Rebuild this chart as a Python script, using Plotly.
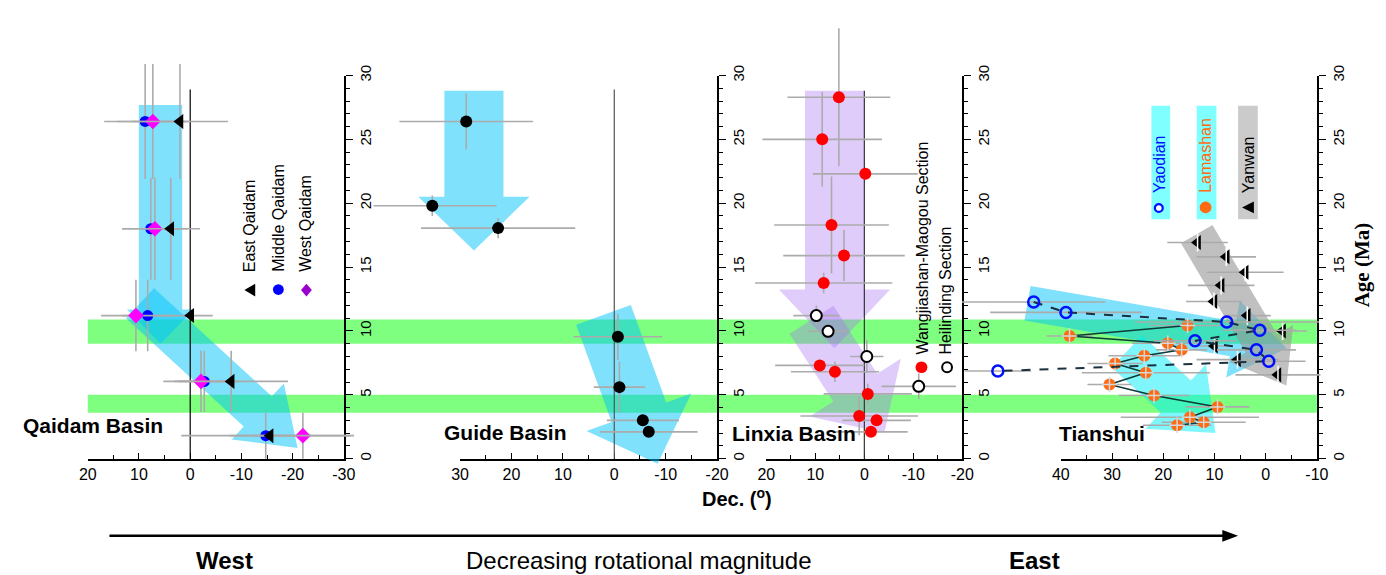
import math
import plotly.graph_objects as go

W, H = 1386, 575

# ---------------- data ----------------
# Qaidam Basin (shared ages for each row)
qd_age = [26.4, 18.0, 11.2, 6.05, 1.8]
east_dec = [2.0, 3.8, -0.1, -8.0, -15.6]
east_xerr = [9.4, 5.7, 4.3, 11.1, 8.0]
east_yerr = [4.5, 4.0, 0.0, 2.4, 0.0]
mid_dec = [8.8, 7.7, 8.3, -2.75, -14.75]
mid_xerr = [8.0, 5.6, 5.0, 5.0, 16.5]
mid_yerr = [4.5, 4.0, 2.8, 2.4, 1.8]
west_dec = [7.3, 6.9, 10.6, -2.1, -22.0]
west_xerr = [7.0, 6.4, 6.8, 7.35, 10.0]
west_yerr = [4.5, 4.0, 2.8, 2.4, 1.8]

# Guide Basin
gd_dec = [28.8, 35.4, 22.6, -0.7, -1.0, -5.55, -6.7]
gd_age = [26.4, 19.8, 18.05, 9.54, 5.6, 3.0, 2.1]
gd_xerr = [13.0, 12.5, 15.0, 8.6, 5.0, 7.0, 9.5]
gd_yerr = [2.2, 0.8, 0.8, 1.8, 2.0, 0.0, 0.0]

# Linxia Basin - Wangjiashan-Maogou section
wm_dec = [5.2, 8.6, -0.2, 6.7, 4.15, 8.3, 9.1, 6.0, -0.7, 1.05, -2.5, -1.35]
wm_age = [28.3, 25.0, 22.3, 18.3, 15.9, 13.75, 7.3, 6.8, 5.07, 3.34, 3.0, 2.1]
wm_xerr = [10.5, 12.2, 10.7, 11.7, 12.4, 14.0, 9.1, 9.0, 9.0, 12.0, 7.0, 7.5]
wm_yerr = [5.4, 3.7, 0.0, 3.8, 2.0, 0.8, 0.0, 0.8, 0.8, 1.5, 0.0, 0.0]
# Linxia Basin - Heilinding section
hl_dec = [9.8, 7.4, -0.5, -11.1]
hl_age = [11.2, 9.97, 8.0, 5.66]
hl_xerr = [4.7, 4.1, 3.4, 7.6]
hl_yerr = [0.8, 0.0, 1.3, 1.0]

# Tianshui
yd_dec = [45.3, 39.0, 7.6, 1.15, 13.8, 1.8, -0.6, 52.3]
yd_age = [12.27, 11.45, 10.7, 10.05, 9.23, 8.52, 7.63, 6.86]
yd_xerr = [14.0, 14.8, 18.0, 7.2, 8.0, 7.7, 7.2, 6.5]
lm_dec = [15.25, 38.3, 19.1, 16.4, 23.7, 29.4, 23.4, 30.5, 21.8, 9.4, 14.8, 12.1, 17.3]
lm_age = [10.43, 9.6, 9.03, 8.52, 8.06, 7.45, 6.73, 5.8, 4.95, 4.05, 3.24, 2.85, 2.62]
lm_xerr = [7.5, 4.5, 7.0, 5.0, 7.0, 5.4, 12.5, 4.3, 6.9, 6.25, 13.5, 8.2, 6.7]
yw_dec = [13.3, 7.7, 4.0, 8.7, 10.1, 3.6, -3.3, 10.0, 5.5, -2.4]
yw_age = [16.93, 15.8, 14.6, 13.57, 12.3, 11.2, 10.0, 8.82, 7.75, 6.56]
yw_xerr = [5.9, 5.8, 7.5, 6.5, 5.45, 4.6, 4.8, 3.4, 8.0, 8.3]

x_tick_vals = [[20, 10, 0, -10, -20, -30], [30, 20, 10, 0, -10, -20],
               [20, 10, 0, -10, -20], [40, 30, 20, 10, 0, -10]]
y_tick_vals = [0, 5, 10, 15, 20, 25, 30]
green_bands = [(9.0, 10.9), (3.6, 5.0)]

# ---------------- layout geometry (pixels) ----------------
P_LEFT = [80, 458, 769, 1068]
P_RIGHT = [340, 719, 968, 1328]
X_RANGES = [[20, -30], [30, -20], [20, -20], [40, -10]]
Y_TOP, Y_BOT = 66, 458
# invisible drawing frames (wider/taller than the axes so marks may overflow like the original)
FR_L = [0, 370, 735, 955]
FR_R = [365, 745, 995, 1386]
FR_B = 472


def px(x):
    return x / W


def py(y):
    return 1 - y / H


SY = (Y_BOT - Y_TOP) / 30.0
SX = [(P_RIGHT[i] - P_LEFT[i]) / (X_RANGES[i][0] - X_RANGES[i][1]) for i in range(4)]

FONT = "Arial, Liberation Sans, sans-serif"
GREY = "#ababab"

fig = go.Figure()

# empty traces so every visible axis pair is instantiated as a subplot
for i in range(4):
    n = "" if i == 0 else str(i + 1)
    fig.add_trace(go.Scatter(x=[], y=[], xaxis="x" + n, yaxis="y" + n, mode="markers",
                             showlegend=False, hoverinfo="skip"))


def err(arr):
    return dict(type="data", array=arr, color=GREY, thickness=1.6, width=0)


def add(xs, ys, xe, ye, fr, **kw):
    tr = dict(x=xs, y=ys, mode="markers", xaxis="x" + fr, yaxis="y" + fr, showlegend=False,
              cliponaxis=False, hoverinfo="skip")
    if xe is not None:
        tr["error_x"] = err(xe)
    if ye is not None:
        tr["error_y"] = err(ye)
    tr.update(kw)
    fig.add_trace(go.Scatter(**tr))


# Qaidam
add(mid_dec, qd_age, mid_xerr, mid_yerr, "5",
    marker=dict(symbol="circle", size=11, color="#0000ff"))
add(west_dec, qd_age, west_xerr, west_yerr, "5",
    marker=dict(symbol="diamond", size=12, color="#ff00ff"))
add(east_dec, qd_age, east_xerr, east_yerr, "5",
    marker=dict(symbol="triangle-left", size=13, color="black"))
# Guide
add(gd_dec, gd_age, gd_xerr, gd_yerr, "6",
    marker=dict(symbol="circle", size=12, color="black"))
# Linxia
add(wm_dec, wm_age, wm_xerr, wm_yerr, "7",
    marker=dict(symbol="circle", size=12, color="#ff0000"))
add(hl_dec, hl_age, hl_xerr, hl_yerr, "7",
    marker=dict(symbol="circle", size=11, color="white", line=dict(color="black", width=2)))
# Tianshui
add(yw_dec, yw_age, yw_xerr, None, "8",
    marker=dict(symbol="triangle-left", size=13, color="black"))
add(yw_dec, yw_age, None, None, "8",
    marker=dict(symbol="line-ns-open", size=13, color="white",
                line=dict(color="white", width=1.5)))
add(lm_dec, lm_age, lm_xerr, None, "8", mode="lines+markers",
    line=dict(color="#0d3b36", width=1.6),
    marker=dict(symbol="circle", size=12, color="#ff6a13"))
add(lm_dec, lm_age, None, None, "8",
    marker=dict(symbol="cross-thin-open", size=11, color="#d8d8d8",
                line=dict(color="#d8d8d8", width=1.5)))
add(yd_dec, yd_age, yd_xerr, None, "8", mode="lines+markers",
    line=dict(color="#1b3140", width=2, dash="dash"),
    marker=dict(symbol="circle-open", size=11, color="#0010ff", line=dict(width=2.5)))

# ---------------- axes ----------------
ydom = [py(Y_BOT), py(Y_TOP)]
tickfont = dict(family=FONT, size=16, color="black")
for i in range(4):
    n = "" if i == 0 else str(i + 1)
    fig.layout["xaxis" + n] = dict(
        domain=[px(P_LEFT[i]), px(P_RIGHT[i])], range=X_RANGES[i], anchor="y" + n,
        showgrid=False, zeroline=False, showline=True, linecolor="black", linewidth=1.6,
        ticks="inside", ticklen=6, tickwidth=1.4, tickcolor="black",
        tickvals=x_tick_vals[i], ticktext=[str(v) for v in x_tick_vals[i]],
        minor=dict(dtick=5, ticks="inside", ticklen=4, tickwidth=1.2, tickcolor="black"),
        tickfont=tickfont, fixedrange=True)
    fig.layout["yaxis" + n] = dict(
        domain=ydom, range=[0, 30], anchor="x" + n, side="right",
        showgrid=False, zeroline=False, showline=True, linecolor="black", linewidth=1.6,
        ticks="outside", ticklen=7, tickwidth=1.4, tickcolor="black",
        tickvals=y_tick_vals, tickangle=-90,
        minor=dict(dtick=1, ticks="outside", ticklen=4, tickwidth=1.2, tickcolor="black"),
        tickfont=dict(family=FONT, size=15, color="black"), fixedrange=True)
    # drawing frame with identical scale
    f = str(i + 5)
    xr = [X_RANGES[i][0] + (P_LEFT[i] - FR_L[i]) / SX[i],
          X_RANGES[i][1] - (FR_R[i] - P_RIGHT[i]) / SX[i]]
    yr = [-(FR_B - Y_BOT) / SY, 30 + Y_TOP / SY]
    fig.layout["xaxis" + f] = dict(domain=[px(FR_L[i]), px(FR_R[i])], range=xr,
                                   anchor="y" + f, visible=False, fixedrange=True)
    fig.layout["yaxis" + f] = dict(domain=[py(FR_B), 1], range=yr, anchor="x" + f,
                                   visible=False, fixedrange=True)

# ---------------- shapes ----------------
shapes = []
for lo, hi in green_bands:
    shapes.append(dict(type="rect", xref="paper", yref="y", x0=px(P_LEFT[0]), x1=px(P_RIGHT[3]),
                       y0=lo, y1=hi, fillcolor="rgba(0,255,0,0.5)", line_width=0, layer="below"))


def arrow_path(tail, tip, bw, hw, hl, sx, sy):
    X0, Y0 = -tail[0] * sx, -tail[1] * sy
    X1, Y1 = -tip[0] * sx, -tip[1] * sy
    dx, dy = X1 - X0, Y1 - Y0
    L = math.hypot(dx, dy)
    ux, uy = dx / L, dy / L
    nx, ny = -uy, ux
    bx, by = X1 - ux * hl, Y1 - uy * hl
    pts = [(X0 + nx * bw / 2, Y0 + ny * bw / 2), (bx + nx * bw / 2, by + ny * bw / 2),
           (bx + nx * hw / 2, by + ny * hw / 2), (X1, Y1),
           (bx - nx * hw / 2, by - ny * hw / 2), (bx - nx * bw / 2, by - ny * bw / 2),
           (X0 - nx * bw / 2, Y0 - ny * bw / 2)]
    return "M " + " L ".join(f"{-X / sx:.4f},{-Y / sy:.4f}" for X, Y in pts) + " Z"


BLUE_A = "rgba(0,195,250,0.5)"
CYAN_A = "rgba(0,235,250,0.5)"
PURP_A = "rgba(165,115,240,0.36)"
GREY_A = "rgba(150,150,150,0.6)"
# (panel index, tail (dec, age), tip (dec, age), body px, head px, head length px, colour)
arrows = [
    (0, (5.8, 27.7), (5.8, 9.0), 44, 68, 35, BLUE_A),
    (0, (9.8, 12.17), (-20.96, 0.84), 42, 78, 55, BLUE_A),
    (1, (27.3, 28.8), (27.3, 16.3), 60, 113, 55, BLUE_A),
    (1, (2.1, 11.26), (-8.43, -0.4), 59, 113, 56, BLUE_A),
    (2, (6.08, 28.8), (6.08, 8.65), 60, 113, 60, PURP_A),
    (2, (10.8, 10.88), (-4.08, 2.01), 53, 110, 55, PURP_A),
    (3, (46.5, 12.17), (-4.04, 8.65), 36, 80, 55, BLUE_A),
    (3, (27.1, 8.4), (9.8, 2.0), 45, 90, 55, CYAN_A),
    (3, (13.46, 17.58), (-4.04, 5.72), 37, 75, 50, GREY_A),
]
for pi, tail, tip, bw, hw, hl, col in arrows:
    f = str(pi + 5)
    shapes.append(dict(type="path", xref="x" + f, yref="y" + f,
                       path=arrow_path(tail, tip, bw, hw, hl, SX[pi], SY),
                       fillcolor=col, line_width=0, layer="below"))

# zero-declination reference lines
for f, top, col in [("5", 28.9, "black"), ("6", 28.9, "#555555"), ("7", 28.8, "#333333")]:
    shapes.append(dict(type="line", xref="x" + f, yref="y" + f, x0=0, x1=0, y0=0, y1=top,
                       line=dict(color=col, width=1.2), layer="below"))

# legend boxes for Tianshui
for x0, x1, col in [(1160, 1179, "rgba(0,255,255,0.5)"), (1206, 1226, "rgba(0,255,255,0.5)"),
                    (1248, 1268, "rgba(160,160,160,0.55)")]:
    shapes.append(dict(type="rect", xref="paper", yref="paper", x0=px(x0), x1=px(x1),
                       y0=py(213), y1=py(97), fillcolor=col, line_width=0, layer="below"))


def circ(cx, cy, r, fill, line_col=None, lw=0):
    return dict(type="circle", xref="paper", yref="paper", x0=px(cx - r), x1=px(cx + r),
                y0=py(cy + r), y1=py(cy - r), fillcolor=fill,
                line=dict(color=line_col or fill, width=lw))


def poly(points, fill):
    return dict(type="path", xref="paper", yref="paper", fillcolor=fill, line_width=0,
                path="M " + " L ".join(f"{px(a):.5f},{py(b):.5f}" for a, b in points) + " Z")


# Qaidam legend keys
shapes.append(poly([(239, 285.5), (250, 279), (250, 292)], "black"))
shapes.append(circ(273.5, 285, 5.5, "#0000ff"))
shapes.append(poly([(302, 279), (307.5, 285.5), (302, 292), (296.5, 285.5)], "#9900cc"))
# Linxia legend keys
shapes.append(circ(926.5, 364.5, 6, "#ff0000"))
shapes.append(circ(952.5, 364.5, 5, "white", "black", 2))
# Tianshui legend keys
shapes.append(circ(1167.5, 201.5, 4, "white", "#0010ff", 2.2))
shapes.append(circ(1215, 201, 6, "#ff6a13"))
shapes.append(poly([(1252, 201), (1264, 195), (1264, 207)], "black"))

# bottom West -> East arrow
shapes.append(dict(type="line", xref="paper", yref="paper", x0=px(102), x1=px(1234),
                   y0=py(537), y1=py(537), line=dict(color="black", width=2.5)))
shapes.append(poly([(1232, 531), (1248, 537), (1232, 543)], "black"))

fig.update_layout(shapes=shapes)

# ---------------- annotations ----------------
ann = []


def text(x, y, s, size=16, color="black", angle=0, xanchor="center", yanchor="middle",
         family=FONT):
    ann.append(dict(x=px(x), y=py(y), xref="paper", yref="paper", text=s, showarrow=False,
                    textangle=angle, xanchor=xanchor, yanchor=yanchor,
                    font=dict(family=family, size=size, color=color)))


text(12, 424, "<b>Qaidam Basin</b>", 21, xanchor="left")
text(440, 431, "<b>Guide Basin</b>", 21, xanchor="left")
text(732, 432, "<b>Linxia Basin</b>", 21, xanchor="left")
text(1064, 432, "<b>Tianshui</b>", 21, xanchor="left")

text(245, 269, "East Qaidam", 16, angle=-90, yanchor="bottom")
text(274, 269, "Middle Qaidam", 16, angle=-90, yanchor="bottom")
text(301, 269, "West Qaidam", 16, angle=-90, yanchor="bottom")
text(928, 353, "Wangjiashan-Maogou Section", 16, angle=-90, yanchor="bottom")
text(951, 354, "Heilinding Section", 16, angle=-90, yanchor="bottom")
text(1168, 188, "Yaodian", 16, color="#0010ff", angle=-90, yanchor="bottom")
text(1215, 188, "Lamashan", 16, color="#ff6a13", angle=-90, yanchor="bottom")
text(1258, 188, "Yanwan", 16, angle=-90, yanchor="bottom")

text(1374, 260, "<b>Age (Ma)</b>", 21, angle=-90,
     family="Times New Roman, Liberation Serif, serif")
text(739, 498, "<b>Dec. (<sup>o</sup>)</b>", 20)

text(219, 562, "<b>West</b>", 24)
text(640, 562, "Decreasing rotational magnitude", 24)
text(1041, 562, "<b>East</b>", 24)

fig.update_layout(annotations=ann)

fig.update_layout(width=W, height=H, margin=dict(l=0, r=0, t=0, b=0),
                  paper_bgcolor="white", plot_bgcolor="rgba(0,0,0,0)", showlegend=False)

fig.write_html("out.html", include_plotlyjs=True, config={"displayModeBar": False})
